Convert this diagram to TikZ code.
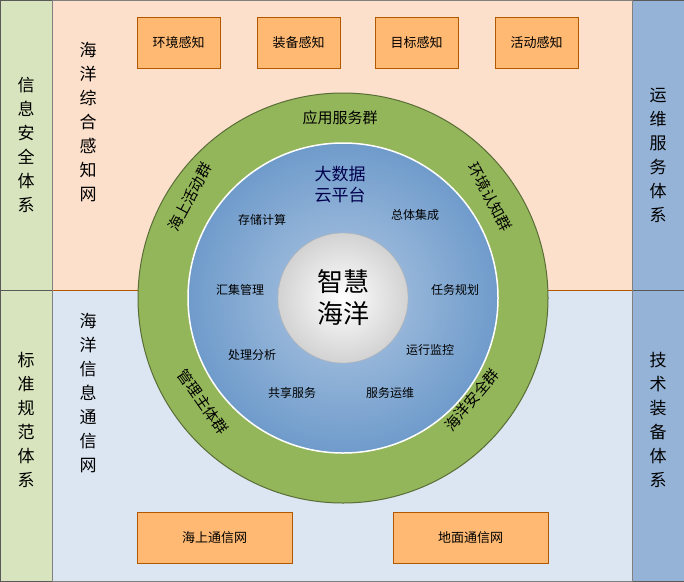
\documentclass[tikz,border=0pt]{standalone}
\usepackage{fontspec}
\newfontfamily\cjk{Noto Sans CJK SC}
\begin{document}
\begin{tikzpicture}[x=1pt,y=-1pt,font=\cjk,
 sidebox/.style={draw=gray!70!black,line width=0.6pt},
 obox/.style={draw=orange!70!black,fill=orange!55!white,line width=0.8pt,minimum height=51pt,font=\cjk\fontsize{13}{15}\selectfont},
 vtext/.style={align=center,font=\cjk\fontsize{17}{24}\selectfont},
 ring/.style={font=\cjk\fontsize{15}{17}\selectfont,inner sep=0pt},
 inner/.style={font=\cjk\fontsize{12}{14}\selectfont}]
\definecolor{lgreen}{HTML}{D7E4BD}
\definecolor{lblue}{HTML}{95B3D7}
\definecolor{torange}{HTML}{FCE0CC}
\definecolor{bblue}{HTML}{DCE6F2}
\definecolor{ringg}{HTML}{94B65A}
\definecolor{innb}{HTML}{6F9BCB}
\useasboundingbox (0,0) rectangle (684,581);
\fill[torange] (52,0) rectangle (632,290);
\fill[bblue] (52,290) rectangle (632,581);
\draw[orange!70!black,line width=0.6pt] (52,290) -- (632,290);
\draw[sidebox,fill=lgreen] (0,0) rectangle (52,581);
\draw[sidebox] (0,290) -- (52,290);
\draw[sidebox,fill=lblue] (632,0) rectangle (684,581);
\draw[sidebox] (632,290) -- (684,290);
\draw[gray,line width=0.6pt] (52,0) rectangle (632,581);
\node[vtext] (l1) at (26,145) {信\\息\\安\\全\\体\\系};
\node[vtext] (l2) at (26,420) {标\\准\\规\\范\\体\\系};
\node[vtext] (r1) at (658,155) {运\\维\\服\\务\\体\\系};
\node[vtext] (r2) at (658,420) {技\\术\\装\\备\\体\\系};
\node[vtext] (t1) at (88,122) {海\\洋\\综\\合\\感\\知\\网};
\node[vtext] (t2) at (88,393) {海\\洋\\信\\息\\通\\信\\网};
\node[obox,minimum width=83pt] (a1) at (178.5,42.5) {环境感知};
\node[obox,minimum width=83pt] (a2) at (298.5,42.5) {装备感知};
\node[obox,minimum width=83pt] (a3) at (416.5,42.5) {目标感知};
\node[obox,minimum width=83pt] (a4) at (536.5,42.5) {活动感知};
\node[obox,minimum width=155pt] (b1) at (214.5,537.5) {海上通信网};
\node[obox,minimum width=155pt] (b2) at (470.5,537.5) {地面通信网};
\node[circle,draw=ringg!60!black,line width=1pt,fill=ringg,minimum size=410pt] (outer) at (343,298) {};
\node[circle,draw=white,line width=1.5pt,inner color=innb!55!white,outer color=innb,minimum size=310pt] (mid) at (343,298) {};
\node[circle,draw=gray!60,inner color=white,outer color=gray!35,minimum size=130pt,font=\cjk\fontsize{26}{32}\selectfont,align=center] (core) at (343,298) {智慧\\海洋};
\node[ring] (g1) at (340,118) {应用服务群};
\node[ring] (g2) at (190,197) {\rotatebox{62}{海上活动群}};
\node[ring] (g3) at (490,197) {\rotatebox{-62}{环境认知群}};
\node[ring] (g4) at (203,402) {\rotatebox{-55}{管理主体群}};
\node[ring] (g5) at (472,400) {\rotatebox{50}{海洋安全群}};
\node[align=center,font=\cjk\fontsize{17}{21}\selectfont,text=blue!30!black] (c) at (340,185) {大数据\\云平台};
\node[inner] (i1) at (262,220) {存储计算};
\node[inner] (i2) at (415,215) {总体集成};
\node[inner] (i3) at (240,290) {汇集管理};
\node[inner] (i4) at (455,290) {任务规划};
\node[inner] (i5) at (252,355) {处理分析};
\node[inner] (i6) at (430,350) {运行监控};
\node[inner] (i7) at (292,393) {共享服务};
\node[inner] (i8) at (390,393) {服务运维};
\end{tikzpicture}
\end{document}
